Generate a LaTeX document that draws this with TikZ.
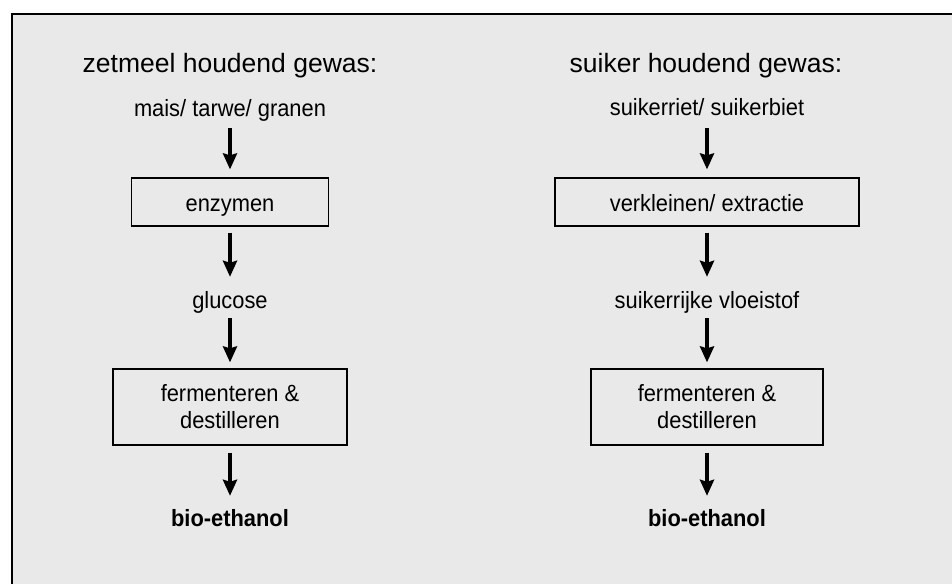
\documentclass[tikz,border=0pt]{standalone}
\usepackage{fontspec}
\setmainfont{Liberation Sans}
\newfontfamily\narrowfont[FakeStretch=0.93]{Liberation Sans}
\usetikzlibrary{arrows.meta}
\definecolor{bg}{RGB}{233,233,233}
\begin{document}
\begin{tikzpicture}[x=1pt,y=-1pt,
  lbl/.style={inner sep=0pt, text height=16pt, text depth=5pt, anchor=base, font=\narrowfont\fontsize{23.5}{27}\selectfont},
  boldlbl/.style={lbl, font=\narrowfont\fontsize{23.5}{27}\selectfont\bfseries},
  ttl/.style={inner sep=0pt, anchor=base, font=\fontsize{26.5}{31}\selectfont},
  boxone/.style={draw, line width=1.2pt, inner sep=0pt, minimum height=48pt, text height=21pt, text depth=2pt, font=\narrowfont\fontsize{23.5}{27}\selectfont},
  boxtwo/.style={draw, line width=1.2pt, inner sep=0pt, minimum height=76pt, align=center, font=\narrowfont\fontsize{23.5}{27}\selectfont},
  flow/.style={line width=3.5pt, -{Stealth[width=14pt,length=16pt,inset=2pt]}},
]
\useasboundingbox (0,0) rectangle (952,583);
\clip (0,0) rectangle (952,583);
\filldraw[fill=bg, draw=black, line width=2pt] (12,14) rectangle (990,620);

% left column
\node[ttl] (t1) at (230,73) {zetmeel houdend gewas:};
\node[lbl] (a1) at (230,117) {mais/ tarwe/ granen};
\node[boxone, minimum width=197pt] (a2) at (230,202) {enzymen};
\node[lbl] (a3) at (230,308) {glucose};
\node[boxtwo, minimum width=234pt] (a4) at (230,407) {fermenteren \&\\destilleren};
\node[boldlbl] (a5) at (230,526) {bio-ethanol};

% right column
\node[ttl] (t2) at (706,73) {suiker houdend gewas:};
\node[lbl] (b1) at (707,116) {suikerriet/ suikerbiet};
\node[boxone, minimum width=304pt] (b2) at (707,202) {verkleinen/ extractie};
\node[lbl] (b3) at (707,308) {suikerrijke vloeistof};
\node[boxtwo, minimum width=232pt] (b4) at (707,407) {fermenteren \&\\destilleren};
\node[boldlbl] (b5) at (707,526) {bio-ethanol};

% arrows
\draw[flow, shorten <=6pt, shorten >=8pt] (a1.south) -- (a2.north);
\draw[flow, shorten <=6pt, shorten >=15pt] (a2.south) -- (a3.north);
\draw[flow, shorten <=5pt, shorten >=6pt] (a3.south) -- (a4.north);
\draw[flow, shorten <=7pt, shorten >=14pt] (a4.south) -- (a5.north);

\draw[flow, shorten <=7pt, shorten >=8pt] (b1.south) -- (b2.north);
\draw[flow, shorten <=6pt, shorten >=15pt] (b2.south) -- (b3.north);
\draw[flow, shorten <=5pt, shorten >=6pt] (b3.south) -- (b4.north);
\draw[flow, shorten <=7pt, shorten >=14pt] (b4.south) -- (b5.north);
\end{tikzpicture}
\end{document}
